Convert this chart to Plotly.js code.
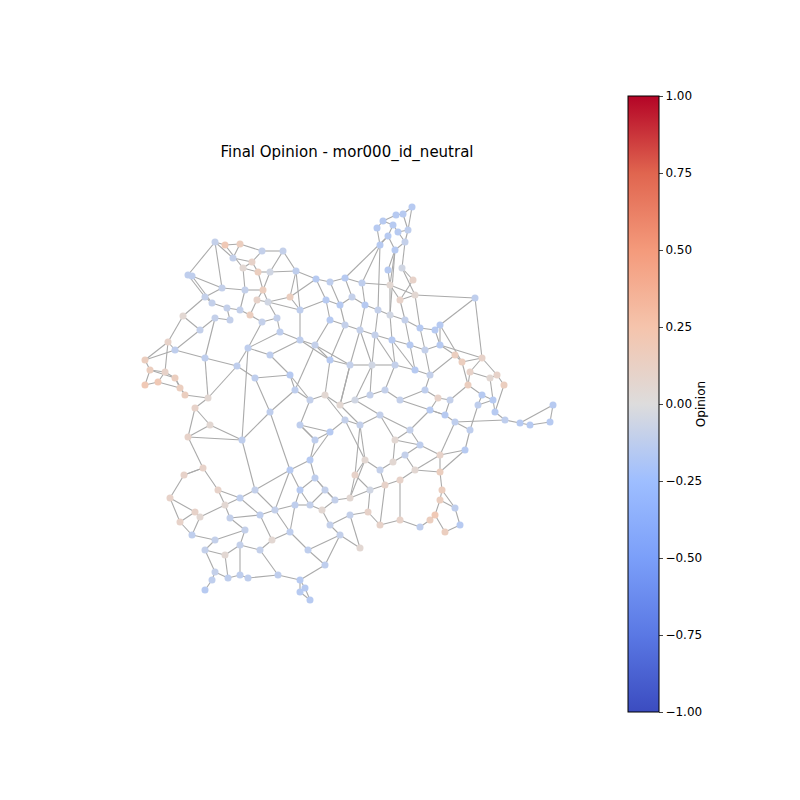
<!DOCTYPE html>
<html>
<head>
<meta charset="utf-8">
<script src="https://cdn.plot.ly/plotly-3.0.1.min.js"></script>
<style>body{margin:0;background:#fff}#chart{width:800px;height:800px}</style>
</head>
<body>
<div id="chart"></div>
<script>
// Node layout positions, plus final opinion per node.
const nodeX = [412,403,383,393,398,408,388,405,380,395,388,413,402,377,396,
  215,225,240,262,283,233,252,243,258,270,188,192,222,245,263,290,205,212,227,240,257,268,250,230,215,262,200,183,277,296,
  145,168,150,145,158,165,175,180,185,175,205,195,208,210,
  316,330,345,362,390,400,415,475,326,340,352,365,378,390,405,420,435,440,330,345,360,375,392,410,425,440,300,315,300,280,248,330,350,372,395,415,430,270,237,255,290,455,
  462,482,470,490,497,504,468,482,493,478,495,505,520,530,550,553,470,455,445,430,438,425,465,450,
  270,295,310,325,340,355,370,385,400,330,345,360,380,242,410,300,
  188,184,170,180,192,203,218,225,240,255,230,245,215,205,225,240,260,272,215,228,240,248,205,212,260,275,195,200,290,278,
  290,300,310,315,325,310,295,322,335,350,330,340,308,325,300,305,310,300,360,315,
  365,380,393,405,415,400,385,370,355,440,440,442,440,435,445,455,460,430,420,400,380,368,350,420,395];
const nodeY = [207,214,221,225,232,230,236,242,245,250,270,280,268,228,215,
  242,245,244,251,251,258,262,268,272,272,275,276,288,290,290,297,297,303,308,310,300,302,315,320,318,322,330,316,318,271,
  360,342,370,385,382,372,378,388,395,350,358,408,398,425,
  279,282,278,283,285,300,295,298,300,305,297,305,310,315,320,328,330,325,320,325,330,335,340,345,350,345,340,345,310,332,348,360,365,365,365,370,375,355,366,378,375,355,
  362,358,372,378,375,385,385,395,400,405,412,420,423,425,422,405,430,422,415,410,398,390,450,400,
  412,390,400,395,405,400,395,390,400,432,420,425,415,440,430,425,
  437,475,498,522,535,468,490,505,498,490,518,530,540,550,555,545,550,540,572,578,575,578,590,580,515,510,512,517,532,575,
  470,490,460,478,490,505,505,510,500,498,525,535,550,565,580,588,600,592,548,440,
  460,470,462,455,470,480,485,490,475,455,472,490,500,515,532,508,525,520,527,520,525,512,515,445,440];
const opinion = [-0.15,-0.15,-0.15,-0.15,-0.15,-0.12,-0.15,-0.1,-0.15,-0.15,-0.15,0.1,-0.05,-0.15,-0.15,
  -0.1,0.2,0.15,-0.1,-0.1,-0.1,0.1,0.05,0.15,-0.05,-0.12,-0.12,-0.1,-0.1,0.15,0.15,-0.1,-0.1,-0.1,-0.1,0.1,-0.05,0.15,-0.1,-0.1,-0.1,-0.1,0.05,-0.1,-0.12,
  0.15,0.1,0.15,0.2,0.2,0.1,0.15,0.15,0.15,-0.12,-0.12,0.1,0.05,0.05,
  -0.15,-0.12,-0.15,-0.12,0.05,0.1,0.05,-0.12,-0.15,-0.15,-0.1,-0.15,-0.1,-0.05,-0.1,-0.15,-0.15,-0.15,-0.15,-0.1,-0.1,-0.1,-0.15,-0.15,-0.1,-0.15,-0.12,-0.1,-0.12,-0.12,-0.12,-0.15,-0.1,-0.05,-0.1,-0.15,-0.1,-0.12,-0.12,-0.12,-0.15,0.15,
  0.15,0.1,0.1,0.05,0.1,0.15,0.15,-0.15,-0.15,-0.12,-0.15,-0.12,-0.15,-0.15,-0.15,-0.15,-0.12,-0.12,-0.15,-0.15,0.1,-0.12,-0.15,-0.1,
  -0.12,-0.12,-0.1,0.05,0.05,-0.05,-0.1,-0.1,-0.1,-0.15,-0.1,-0.1,-0.1,-0.12,-0.1,-0.12,
  0.1,0.1,0.1,0.1,-0.12,0.1,0.1,0.05,-0.12,-0.1,-0.1,-0.1,-0.1,-0.1,0.05,-0.1,-0.1,0.05,-0.1,-0.12,-0.12,-0.12,-0.15,-0.12,-0.12,-0.1,0.1,0.05,-0.12,-0.12,
  -0.15,-0.15,-0.15,-0.12,-0.1,-0.1,-0.12,0.05,-0.1,0.05,-0.1,-0.1,-0.12,-0.12,-0.15,-0.15,-0.15,-0.15,0.05,-0.12,
  0.05,-0.1,0.05,-0.1,0.05,0.1,0.1,-0.05,0.1,0.1,0.15,0.15,0.15,0.2,0.15,-0.12,-0.15,0.15,-0.12,0.1,0.1,0.1,-0.1,-0.12,0.05];
// Edge list as flat pairs of node indices.
const edges = [0,1,1,14,14,2,2,3,3,4,4,5,5,0,3,6,6,8,8,13,13,2,4,7,7,9,9,6,9,10,7,12,12,11,10,63,8,62,9,63,6,61,12,65,5,7,1,5,11,64,8,71,9,72,
  15,16,16,17,17,20,20,15,20,21,21,22,22,23,23,24,18,19,18,21,17,18,19,24,24,44,25,26,26,27,27,31,31,32,32,33,33,34,34,28,28,22,28,29,29,35,35,36,36,30,30,44,37,40,40,43,43,36,34,37,38,39,39,41,41,42,42,31,38,33,27,28,23,29,35,37,29,36,26,32,25,31,15,25,16,22,19,44,30,87,43,88,40,89,41,54,39,55,44,59,30,59,36,87,24,29,21,23,
  45,46,45,47,47,48,48,49,49,50,50,47,50,51,51,52,52,53,53,57,57,56,56,58,46,54,54,55,51,53,49,52,55,57,58,141,45,54,47,51,55,97,58,138,42,46,46,50,
  59,60,60,61,61,62,62,63,63,64,64,65,65,66,59,67,67,68,68,69,69,70,70,71,71,72,72,73,73,74,74,75,75,76,76,66,77,78,78,79,79,80,80,81,81,82,82,83,83,84,84,76,67,77,68,78,70,79,71,80,72,81,73,82,74,83,75,84,85,86,86,77,87,85,87,67,88,85,89,96,96,85,96,99,97,98,98,99,99,126,90,91,91,92,92,93,93,94,94,95,86,90,90,78,91,79,92,80,93,81,94,82,95,83,100,84,100,95,69,61,62,70,63,72,64,73,65,74,89,88,97,89,60,68,86,91,80,93,81,94,85,90,79,92,
  100,101,101,102,102,103,103,104,104,105,105,106,101,107,107,103,107,108,108,109,109,110,110,108,109,111,111,112,112,113,113,114,114,115,115,116,116,113,110,117,117,118,118,119,119,120,120,121,121,122,122,95,121,124,124,119,117,123,104,109,106,111,102,105,123,200,120,139,124,107,119,133,118,112,122,133,66,102,76,101,84,102,
  125,126,126,127,127,128,128,129,129,130,130,131,131,132,132,133,134,135,135,136,136,137,137,139,127,140,140,134,125,138,138,141,128,135,129,136,130,137,99,127,92,131,93,132,91,129,90,128,125,98,140,190,134,190,136,191,137,215,139,214,126,86,129,91,130,92,
  141,146,146,142,142,143,143,144,144,145,145,153,146,147,147,148,148,149,149,150,150,138,148,151,151,152,152,153,153,154,154,155,155,156,156,157,157,158,158,165,165,166,166,150,151,165,159,160,160,161,161,162,162,170,163,164,164,159,159,154,160,155,143,167,167,168,168,148,144,167,169,158,169,166,170,157,156,152,147,149,142,146,145,168,149,165,150,171,166,171,169,177,170,185,161,156,141,56,
  171,172,172,174,173,174,174,175,175,179,179,180,175,176,176,177,177,172,176,178,178,179,178,181,181,182,182,183,183,184,184,185,185,186,186,187,187,188,188,185,182,189,189,213,173,190,190,140,171,173,180,199,181,213,183,169,184,182,172,176,174,179,173,134,171,125,180,198,177,166,
  191,192,192,193,193,194,194,195,195,196,196,197,197,198,198,199,199,191,194,214,214,215,215,193,195,200,200,201,201,202,202,203,203,204,204,205,205,207,207,206,206,203,204,208,208,209,209,210,210,211,211,212,212,213,196,210,197,211,192,197,200,214,202,206,201,195,139,215,136,199,135,191,123,201,118,200,191,180,212,198,
  44,87,57,97,89,138,15,27,63,65];
const colorbarTicks = [-1,-0.75,-0.5,-0.25,0,0.25,0.5,0.75,1];

const ex = [], ey = [];
for (let i = 0; i < edges.length; i += 2) {
  const a = edges[i], b = edges[i + 1];
  ex.push(nodeX[a], nodeX[b], null);
  ey.push(nodeY[a], nodeY[b], null);
}

const coolwarm = [[0,'#3b4cc0'],[0.125,'#5a78e4'],[0.25,'#7b9ff9'],[0.375,'#9ebeff'],[0.5,'#dddcdc'],[0.625,'#f5c4ac'],[0.75,'#f49a7b'],[0.875,'#e0654f'],[1,'#b40426']];

const edgeTrace = {type:'scatter', mode:'lines', x:ex, y:ey, line:{color:'#aaaaaa', width:1.1}, hoverinfo:'skip'};
const nodeTrace = {
  type:'scatter', mode:'markers', x:nodeX, y:nodeY,
  marker:{
    size:7, color:opinion, colorscale:coolwarm, cmin:-1, cmax:1, line:{width:0},
    colorbar:{
      x:618/800, xanchor:'left', xpad:10, y:(800-404)/800, yanchor:'middle', len:636/800, lenmode:'fraction', ypad:10,
      thickness:31, outlinewidth:1, outlinecolor:'#000',
      tickvals:colorbarTicks, ticktext:colorbarTicks.map(v => v.toFixed(2).replace('-','−')),
      ticks:'outside', ticklen:4, tickfont:{family:'DejaVu Sans', size:12, color:'#000'},
      title:{text:'Opinion', side:'right', font:{family:'DejaVu Sans', size:12, color:'#000'}}
    }
  }
};

const layout = {
  width:800, height:800, margin:{l:0, r:0, t:0, b:0},
  paper_bgcolor:'#fff', plot_bgcolor:'#fff', showlegend:false,
  title:{text:'Final Opinion - mor000_id_neutral', x:347/800, xanchor:'center', y:(800-152)/800, yanchor:'middle',
    font:{family:'DejaVu Sans', size:15, color:'#000'}},
  xaxis:{range:[0,800], visible:false, fixedrange:true},
  yaxis:{range:[800,0], visible:false, fixedrange:true}
};

Plotly.newPlot('chart', [edgeTrace, nodeTrace], layout, {displayModeBar:false, staticPlot:true});
</script>
</body>
</html>
